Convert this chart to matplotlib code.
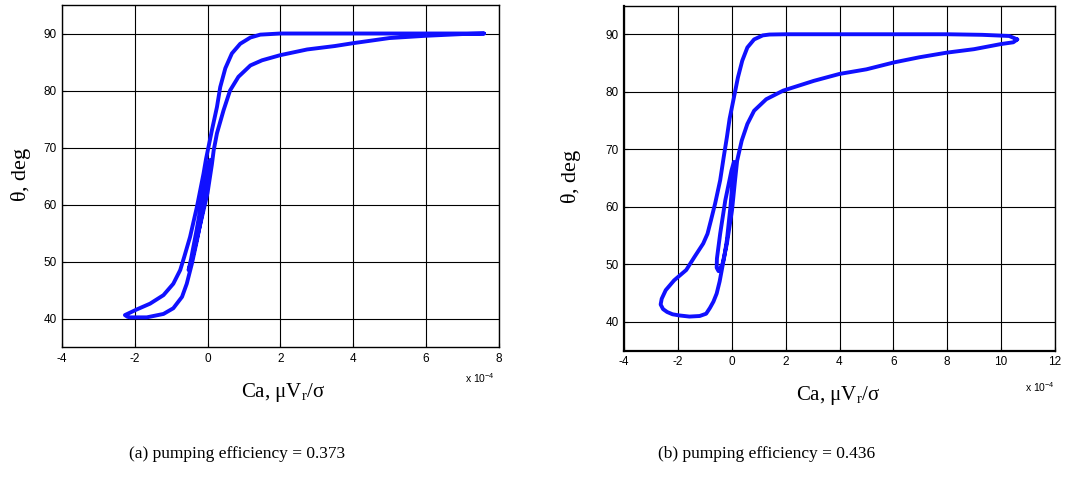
import matplotlib.pyplot as plt
import numpy as np

# Contact angle hysteresis loops, Ca in units of 1e-4 ----------------------
# (a) efficiency 0.373
ca_a = [7.6, 7.0, 6.0, 4.0, 2.0, 1.45, 1.18, 0.9, 0.67, 0.49, 0.35, 0.26, 0.12, 0.05,
        -0.04, -0.11, -0.29, -0.48, -0.64, -0.75, -0.94, -1.21, -1.58, -1.94, -2.27, -2.2,
        -2.13, -1.67, -1.21, -0.94, -0.7, -0.57, -0.43, -0.29, -0.11, 0.04, 0.07, 0.0,
        -0.12, -0.3, -0.45, -0.52, -0.42, -0.2, 0.0, 0.12, 0.17, 0.26, 0.44, 0.62, 0.85,
        1.18, 1.5, 2.0, 2.74, 3.5, 4.0, 5.0, 6.0, 7.0, 7.6]
th_a = [90.0, 90.0, 90.0, 90.0, 90.0, 89.8, 89.3, 88.2, 86.5, 83.9, 80.6, 77.1, 73.0, 70.8,
        68.0, 65.4, 59.6, 54.3, 50.8, 48.5, 46.1, 44.1, 42.6, 41.6, 40.6, 40.3,
        40.2, 40.2, 40.8, 41.8, 43.8, 46.1, 49.6, 53.7, 59.6, 65.4, 67.8, 66.5,
        62.0, 55.5, 50.5, 48.5, 50.5, 56.5, 62.0, 67.0, 69.5, 72.5, 76.5, 80.0, 82.4,
        84.4, 85.3, 86.2, 87.2, 87.8, 88.3, 89.2, 89.6, 89.9, 90.0]

# (b) efficiency 0.436
ca_b = [10.6, 10.3, 9.3, 8.0, 6.0, 4.0, 2.0, 1.4, 1.15, 0.83, 0.58, 0.39, 0.23, 0.08,
        -0.08, -0.18, -0.3, -0.43, -0.62, -0.78, -0.9, -1.06, -1.38, -1.69, -2.14, -2.45,
        -2.6, -2.64, -2.55, -2.4, -2.2, -1.95, -1.57, -1.19, -0.95, -0.81, -0.68, -0.56,
        -0.45, -0.37, -0.27, -0.18, -0.05, 0.04, 0.1, 0.14, 0.08, -0.01, -0.24, -0.43,
        -0.55, -0.56, -0.49, -0.34, -0.18, 0.01, 0.12, 0.2, 0.37, 0.58, 0.83, 1.28, 1.91,
        3.05, 4.0, 5.0, 6.02, 6.97, 7.98, 8.99, 10.0, 10.45, 10.6]
th_b = [89.1, 89.7, 89.9, 90.0, 90.0, 90.0, 90.0, 89.95, 89.8, 89.1, 87.7, 85.4, 82.5, 79.0,
        75.3, 72.1, 68.6, 64.6, 60.5, 57.5, 55.3, 53.6, 51.3, 49.0, 47.2, 45.5,
        44.0, 43.0, 42.2, 41.7, 41.3, 41.1, 40.9, 41.0, 41.4, 42.4, 43.5, 44.9,
        47.0, 49.0, 51.5, 54.2, 59.9, 65.1, 67.2, 67.7, 67.8, 66.3, 61.1, 55.3,
        51.0, 49.4, 48.8, 50.1, 53.6, 59.4, 64.5, 68.0, 71.5, 74.4, 76.7, 78.7, 80.2,
        81.9, 83.1, 83.9, 85.1, 86.0, 86.8, 87.4, 88.3, 88.6, 89.1]

xticks_a = [-4, -2, 0, 2, 4, 6, 8]
xticks_b = [-4, -2, 0, 2, 4, 6, 8, 10, 12]
yticks = [40, 50, 60, 70, 80, 90]
captions = ["(a) pumping efficiency = 0.373", "(b) pumping efficiency = 0.436"]

serif = "Liberation Serif"
sans = "Liberation Sans"
plt.rcParams.update({"mathtext.fontset": "custom", "mathtext.rm": serif,
                     "mathtext.it": serif, "mathtext.sf": sans})

W, H = 1068, 482
fig = plt.figure(figsize=(W / 100, H / 100), dpi=100)

# axes boxes in pixels: left, top, right, bottom
boxes = [(62, 5, 498.5, 347), (624, 5.5, 1055, 350.5)]

panels = [(ca_a, th_a, xticks_a, 8, 1.0, 480, 378, 21, 283),
          (ca_b, th_b, xticks_b, 12, 1.6, 1040, 387, 571, 838)]

for (l, t, r, b), (ca, th, xt, xmax, spw, px, py, ylx, xlx) in zip(boxes, panels):
	ax = fig.add_axes([l / W, 1 - b / H, (r - l) / W, (b - t) / H])
	ax.plot(ca, th, color="#1010ff", lw=2.8, solid_joinstyle="round", solid_capstyle="round")
	ax.set_xlim(-4, xmax)
	ax.set_ylim(35, 95)
	ax.set_xticks(xt)
	ax.set_yticks(yticks)
	ax.set_xticklabels([str(v) for v in xt], fontfamily=sans, fontsize=8.5)
	ax.set_yticklabels([str(v) for v in yticks], fontfamily=sans, fontsize=8.5)
	ax.tick_params(direction="in", length=3, width=0.8, pad=4)
	ax.grid(True, color="black", lw=0.8)
	ax.set_axisbelow(True)
	for s in ax.spines.values():
		s.set_linewidth(1.0)
	ax.spines["left"].set_linewidth(spw)
	ax.spines["bottom"].set_linewidth(spw)

	fig.text(xlx / W, 1 - (b + 45) / H, r"Ca, $\mathregular{\mu V_r/\sigma}$", fontfamily=serif,
	         fontsize=15, ha="center", va="center")
	fig.text(ylx / W, 1 - ((t + b) / 2 - 2) / H, r"$\mathregular{\theta}$, deg", fontfamily=serif,
	         fontsize=16, rotation=90, ha="center", va="center")
	fig.text(px / W, 1 - py / H, r"x 10$^{\mathsf{-4}}$", fontfamily=sans, fontsize=7.5,
	         ha="center", va="center")

fig.text(237 / W, 1 - 454 / H, captions[0], fontfamily=serif, fontsize=12.5, ha="center", va="center")
fig.text(767 / W, 1 - 454 / H, captions[1], fontfamily=serif, fontsize=12.5, ha="center", va="center")

fig.savefig("out.png", dpi=100)
